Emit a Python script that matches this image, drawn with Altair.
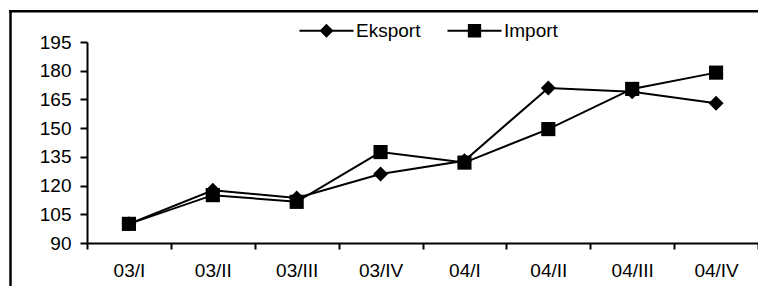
import altair as alt
import pandas as pd

categories = ["03/I", "03/II", "03/III", "03/IV", "04/I", "04/II", "04/III", "04/IV"]
series = ["Eksport", "Import"]
eksport = [100, 117.5, 113.5, 126, 133, 171, 169, 163]
imports = [100, 115, 111.5, 137.5, 132, 149.5, 170.5, 179]
y_ticks = [90, 105, 120, 135, 150, 165, 180, 195]

rows = []
for c, e, i in zip(categories, eksport, imports):
    rows.append({"kw": c, "series": "Eksport", "value": e})
    rows.append({"kw": c, "series": "Import", "value": i})
df = pd.DataFrame(rows)

FONT = "Liberation Sans"
W, H = 671, 201
BOTTOM = 43

x_enc = alt.X("kw:N", sort=categories,
              scale=alt.Scale(type="band", paddingInner=0, paddingOuter=0),
              axis=alt.Axis(title=None, labelAngle=0, tickBand="extent", grid=False,
                            domainColor="black", domainWidth=2, tickColor="black",
                            tickWidth=2, tickSize=6, labelPadding=12, labelFontSize=19,
                            labelFont=FONT, labelColor="black"))
y_enc = alt.Y("value:Q", scale=alt.Scale(domain=[90, 195], nice=False, zero=False),
              axis=alt.Axis(title=None, values=y_ticks, grid=False,
                            domainColor="black", domainWidth=2, tickColor="black",
                            tickWidth=2, tickSize=7, labelPadding=9, labelFontSize=19,
                            labelFont=FONT, labelColor="black"))

base = alt.Chart(df)

lines = base.mark_line(color="black", strokeWidth=2).encode(
    x=x_enc, y=y_enc, detail="series:N")

points = base.mark_point(filled=True, color="black", opacity=1).encode(
    x=x_enc, y=y_enc,
    shape=alt.Shape("series:N", scale=alt.Scale(domain=series, range=["diamond", "square"]),
                    legend=None),
    size=alt.Size("series:N", scale=alt.Scale(domain=series, range=[225, 200]),
                  legend=None))

path_d = "M-3.86,-0.14H3.86V0.14H-3.86Z M-1,0L0,-1L1,0L0,1Z"
path_s = "M-3.86,-0.14H3.86V0.14H-3.86Z M-0.95,-0.95H0.95V0.95H-0.95Z"

legend_layer = base.transform_filter("false").mark_point(
    filled=True, color="black", opacity=1).encode(
    shape=alt.Shape("series:N",
                    scale=alt.Scale(domain=series, range=[path_d, path_s]),
                    legend=alt.Legend(title=None, orient="none", direction="horizontal",
                                      legendX=230, legendY=-21, symbolSize=196,
                                      symbolFillColor="black", symbolStrokeWidth=0,
                                      symbolOpacity=1,
                                      labelOffset=20, labelFontSize=19, labelFont=FONT,
                                      labelColor="black", columnPadding=26, padding=0)))

one = alt.Chart(pd.DataFrame({"a": [0]}))
frame_left = one.mark_rule(color="black", strokeWidth=2.5).encode(
    x=alt.value(-76.5), y=alt.value(-31.9), y2=alt.value(H + BOTTOM))
frame_top = one.mark_rule(color="black", strokeWidth=2.5).encode(
    x=alt.value(-77.7), x2=alt.value(W), y=alt.value(-30.7))

chart = alt.layer(frame_left, frame_top, lines, points, legend_layer).resolve_scale(
    shape="independent", size="independent").properties(
    width=W, height=H,
    autosize=alt.AutoSizeParams(type="none"),
    padding={"left": 79, "top": 34, "right": 0, "bottom": BOTTOM},
    background="white",
).configure_view(stroke=None)

chart.save("out.html", embed_options={"renderer": "svg", "actions": False})
